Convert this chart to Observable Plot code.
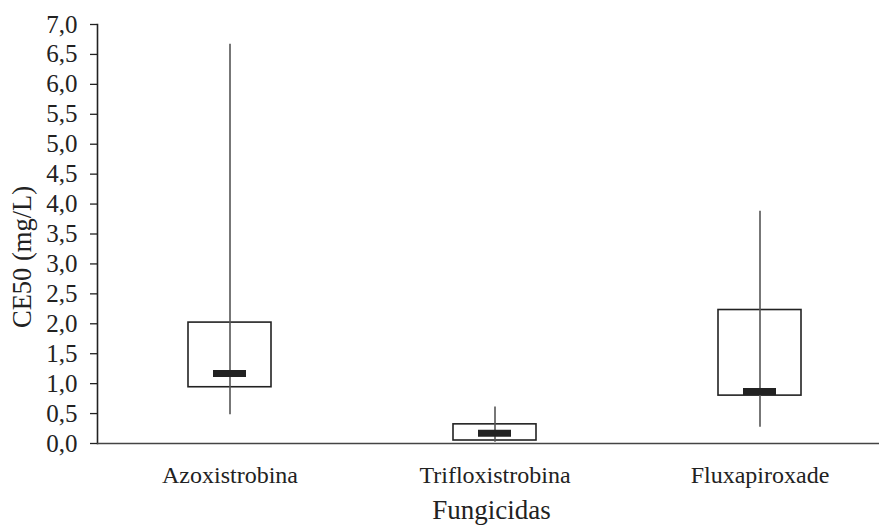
<!DOCTYPE html>
<html>
<head>
<meta charset="utf-8">
<script src="https://cdn.jsdelivr.net/npm/d3@7"></script>
<script src="https://cdn.jsdelivr.net/npm/@observablehq/plot@0.6"></script>
<style>
  html, body { margin: 0; padding: 0; background: #fff; }
  #chart svg { display: block; overflow: visible; }
</style>
</head>
<body>
<div id="chart"></div>
<script>
const categories = ["Azoxistrobina", "Trifloxistrobina", "Fluxapiroxade"];
const minVals = [0.48, 0.02, 0.27];
const q1Vals = [0.94, 0.05, 0.80];
const medianVals = [1.17, 0.17, 0.87];
const q3Vals = [2.02, 0.32, 2.23];
const maxVals = [6.67, 0.61, 3.88];
const yTicks = d3.range(0, 7.01, 0.5);
const yLabel = "CE50 (mg/L)";
const xLabel = "Fungicidas";

const data = categories.map((c, i) => ({
  cat: c, min: minVals[i], q1: q1Vals[i], med: medianVals[i], q3: q3Vals[i], max: maxVals[i]
}));

const fmt = v => d3.format(".1f")(v).replace(".", ",");
const font = "'Liberation Serif', 'Times New Roman', serif";

const chart = Plot.plot({
  width: 879,
  height: 525,
  marginLeft: 97,
  marginRight: 0,
  marginTop: 24,
  marginBottom: 82,
  style: { fontFamily: font, color: "#222", background: "#fff", overflow: "visible" },
  x: { domain: categories, range: [97, 892], padding: 0, label: null },
  y: { domain: [0, 7], label: null },
  marks: [
    Plot.axisY({ ticks: yTicks, tickFormat: fmt, tickSize: 7, tickPadding: 13, fontSize: 25, stroke: "#222", strokeWidth: 1.3, label: null }),
    Plot.axisX({ tickSize: 0, tickPadding: 22, fontSize: 24, label: null }),
    Plot.barY(data, { x: "cat", y1: "q1", y2: "q3", fill: "#fff", stroke: "#222", strokeWidth: 1.6, insetLeft: 91, insetRight: 91 }),
    Plot.ruleX(data, { x: "cat", y1: "min", y2: "max", stroke: "#555", strokeWidth: 1.6 }),
    Plot.tickY(data, { x: "cat", y: "med", stroke: "#222", strokeWidth: 7, insetLeft: 116, insetRight: 116 }),
    Plot.frame({ anchor: "left", stroke: "#222", strokeWidth: 1.6 }),
    Plot.ruleY([0], { stroke: "#444", strokeWidth: 1.6 }),
    Plot.text([yLabel], { frameAnchor: "left", rotate: -90, textAnchor: "middle", lineAnchor: "middle", dx: -75, dy: 23, fontSize: 26.5, fill: "#222" }),
    Plot.text([xLabel], { frameAnchor: "bottom", lineAnchor: "bottom", dy: 75, dx: 3, fontSize: 27, fill: "#222" })
  ]
});
document.getElementById("chart").appendChild(chart);
</script>
</body>
</html>
